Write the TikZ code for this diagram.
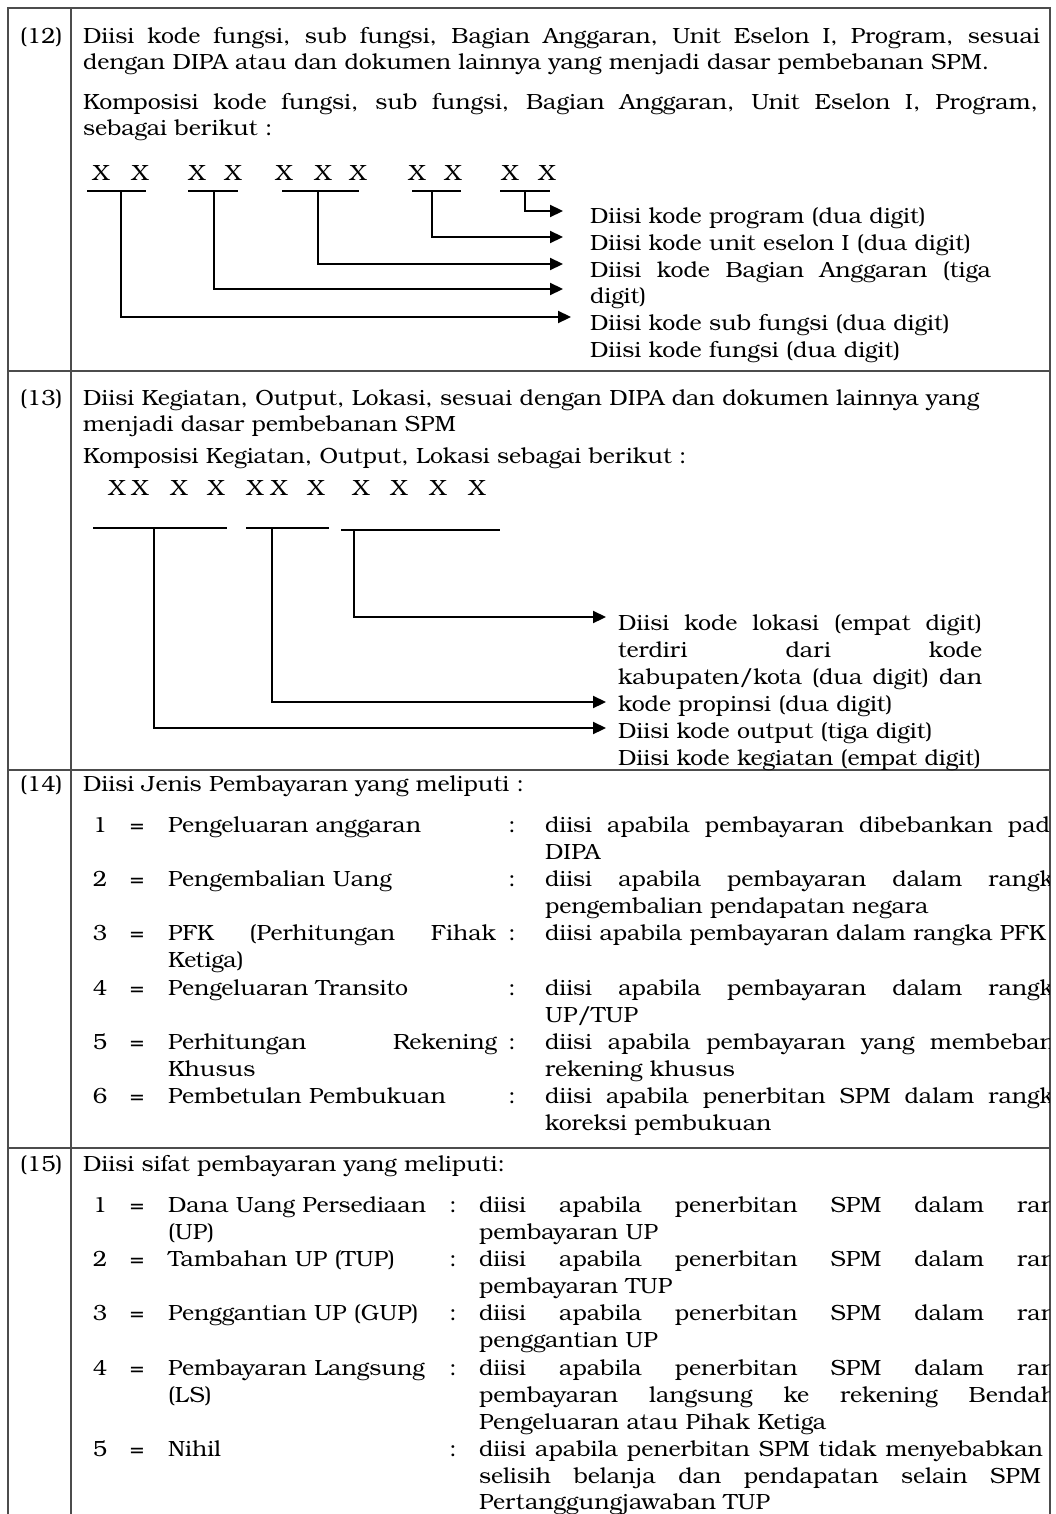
\documentclass[tikz,border=0pt]{standalone}
\usepackage{fontspec}
\setmainfont[FakeStretch=1.05]{TeX Gyre Bonum}
\usetikzlibrary{arrows.meta}
\newcommand\jl[2]{\makebox[#1pt][s]{#2}}
\begin{document}
\begin{tikzpicture}[x=1pt,y=-1pt,
  ln/.style={anchor=base west,inner sep=0pt,outer sep=0pt,font=\fontsize{22}{27}\selectfont},
  ctr/.style={ln,anchor=base},
  xx/.style={anchor=center,inner sep=0pt,outer sep=0pt,font=\fontsize{22}{27}\selectfont},
  frame/.style={draw=black!70,line width=1.2pt},
  bar/.style={line width=2.2pt},
  arr/.style={line width=2.2pt,-{Triangle[length=13pt,width=12pt]}}
]
\useasboundingbox (0,0) rectangle (1055,1514);
\fill[white] (0,0) rectangle (1055,1514);
% frame
\draw[frame] (8,1514) -- (8,8) -- (1050,8) -- (1050,1514);
\draw[frame] (71,8) -- (71,1514);
\draw[frame] (8,371) -- (1050,371);
\draw[frame] (8,770) -- (1050,770);
\draw[frame] (8,1148) -- (1050,1148);

\begin{scope}
\clip (8,8) rectangle (1049,1514);
% ---------- row 12
\node[ln] (n12) at (20,44) {(12)};
\node[ln] (a1) at (83,44) {\jl{957}{Diisi kode fungsi, sub fungsi, Bagian Anggaran, Unit Eselon I, Program, sesuai}};
\node[ln] (a2) at (83,70) {dengan DIPA atau dan dokumen lainnya yang menjadi dasar pembebanan SPM.};
\node[ln] (a3) at (83,110) {\jl{955}{Komposisi kode fungsi, sub fungsi, Bagian Anggaran, Unit Eselon I, Program,}};
\node[ln] (a4) at (83,136) {sebagai berikut :};
\foreach \i/\x in {1/101,2/140,3/197,4/233,5/284,6/323,7/358,8/417,9/453,10/510,11/547}
  \node[xx] (xa\i) at (\x,173) {X};
\node[ln] (r1) at (590,224) {Diisi kode program (dua digit)};
\node[ln] (r2) at (590,251) {Diisi kode unit eselon I (dua digit)};
\node[ln] (r3) at (590,277) {\jl{401}{Diisi kode Bagian Anggaran (tiga}};
\node[ln] (r4) at (590,303) {digit)};
\node[ln] (r5) at (590,330) {Diisi kode sub fungsi (dua digit)};
\node[ln] (r6) at (590,357) {Diisi kode fungsi (dua digit)};
% ---------- row 13
\node[ln] (n13) at (20,405) {(13)};
\node[ln] (b1) at (83,405) {Diisi Kegiatan, Output, Lokasi, sesuai dengan DIPA dan dokumen lainnya yang};
\node[ln] (b2) at (83,431) {menjadi dasar pembebanan SPM};
\node[ln] (b3) at (83,463) {Komposisi Kegiatan, Output, Lokasi sebagai berikut :};
\foreach \i/\x in {1/117,2/140,3/179,4/216,5/255,6/279,7/316,8/361,9/399,10/438,11/477}
  \node[xx] (xb\i) at (\x,488) {X};
\node[ln] (s1) at (618,630) {\jl{364}{Diisi kode lokasi (empat digit)}};
\node[ln] (s2) at (618,657) {\jl{364}{terdiri dari kode}};
\node[ln] (s3) at (618,684) {\jl{364}{kabupaten/kota (dua digit) dan}};
\node[ln] (s4) at (618,711) {kode propinsi (dua digit)};
\node[ln] (s5) at (618,738) {Diisi kode output (tiga digit)};
\node[ln] (s6) at (618,765) {Diisi kode kegiatan (empat digit)};
% ---------- row 14
\node[ln] (n14) at (20,791) {(14)};
\node[ln] (c0) at (83,791) {Diisi Jenis Pembayaran yang meliputi :};
\foreach \i/\y in {1/832,2/886,3/940,4/995,5/1049,6/1103}{
  \node[ctr] (cn\i) at (100,\y) {\i};
  \node[ctr] (ce\i) at (137,\y) {=};
  \node[ctr] (cc\i) at (512,\y) {:};
}
\node[ln] (cl1) at (168,832) {Pengeluaran anggaran};
\node[ln] (cd1) at (545,832) {\jl{505}{diisi apabila pembayaran dibebankan pad}};
\node[ln] (cd1b) at (545,859) {DIPA};
\node[ln] (cl2) at (168,886) {Pengembalian Uang};
\node[ln] (cd2) at (545,886) {\jl{509}{diisi apabila pembayaran dalam rangk}};
\node[ln] (cd2b) at (545,913) {pengembalian pendapatan negara};
\node[ln] (cl3) at (168,940) {\jl{328}{PFK (Perhitungan Fihak}};
\node[ln] (cl3b) at (168,967) {Ketiga)};
\node[ln] (cd3) at (545,940) {diisi apabila pembayaran dalam rangka PFK};
\node[ln] (cl4) at (168,995) {Pengeluaran Transito};
\node[ln] (cd4) at (545,995) {\jl{509}{diisi apabila pembayaran dalam rangk}};
\node[ln] (cd4b) at (545,1022) {UP/TUP};
\node[ln] (cl5) at (168,1049) {\jl{329}{Perhitungan Rekening}};
\node[ln] (cl5b) at (168,1076) {Khusus};
\node[ln] (cd5) at (545,1049) {\jl{510}{diisi apabila pembayaran yang membeban}};
\node[ln] (cd5b) at (545,1076) {rekening khusus};
\node[ln] (cl6) at (168,1103) {Pembetulan Pembukuan};
\node[ln] (cd6) at (545,1103) {\jl{509}{diisi apabila penerbitan SPM dalam rangk}};
\node[ln] (cd6b) at (545,1130) {koreksi pembukuan};
% ---------- row 15
\node[ln] (n15) at (20,1171) {(15)};
\node[ln] (d0) at (83,1171) {Diisi sifat pembayaran yang meliputi:};
\foreach \i/\y in {1/1212,2/1266,3/1320,4/1375,5/1456}{
  \node[ctr] (dn\i) at (100,\y) {\i};
  \node[ctr] (de\i) at (137,\y) {=};
  \node[ctr] (dc\i) at (453,\y) {:};
}
\node[ln] (dl1) at (168,1212) {Dana Uang Persediaan};
\node[ln] (dl1b) at (168,1239) {(UP)};
\node[ln] (dd1) at (479,1212) {\jl{577}{diisi apabila penerbitan SPM dalam ran}};
\node[ln] (dd1b) at (479,1239) {pembayaran UP};
\node[ln] (dl2) at (168,1266) {Tambahan UP (TUP)};
\node[ln] (dd2) at (479,1266) {\jl{577}{diisi apabila penerbitan SPM dalam ran}};
\node[ln] (dd2b) at (479,1293) {pembayaran TUP};
\node[ln] (dl3) at (168,1320) {Penggantian UP (GUP)};
\node[ln] (dd3) at (479,1320) {\jl{577}{diisi apabila penerbitan SPM dalam ran}};
\node[ln] (dd3b) at (479,1347) {penggantian UP};
\node[ln] (dl4) at (168,1375) {Pembayaran Langsung};
\node[ln] (dl4b) at (168,1402) {(LS)};
\node[ln] (dd4) at (479,1375) {\jl{577}{diisi apabila penerbitan SPM dalam ran}};
\node[ln] (dd4b) at (479,1402) {\jl{577}{pembayaran langsung ke rekening Bendah}};
\node[ln] (dd4c) at (479,1429) {Pengeluaran atau Pihak Ketiga};
\node[ln] (dl5) at (168,1456) {Nihil};
\node[ln] (dd5) at (479,1456) {\jl{564}{diisi apabila penerbitan SPM tidak menyebabkan}};
\node[ln] (dd5b) at (479,1483) {\jl{562}{selisih belanja dan pendapatan selain SPM}};
\node[ln] (dd5c) at (479,1509) {Pertanggungjawaban TUP};
\end{scope}

% ---------- diagram row 12
\foreach \n/\l/\m/\r in {1/87/121/146,2/188/214/238,3/282/318/359,4/412/432/461,5/500/525/550}{
  \coordinate (ual\n) at (\l,191);
  \coordinate (uar\n) at (\r,191);
  \coordinate (uam\n) at (\m,191);
  \draw[bar] (ual\n) -- (uar\n);
}
\coordinate (ea5) at (563,211);
\coordinate (ea4) at (563,237);
\coordinate (ea3) at (563,264);
\coordinate (ea2) at (563,289);
\coordinate (ea1) at (571,317);
\foreach \n in {1,...,5} \draw[arr] (uam\n) |- (ea\n);
% ---------- diagram row 13
\foreach \n/\l/\m/\r/\y in {1/93/154/227/528,2/246/272/329/528,3/341/354/500/530}{
  \coordinate (ubl\n) at (\l,\y);
  \coordinate (ubr\n) at (\r,\y);
  \coordinate (ubm\n) at (\m,\y);
  \draw[bar] (ubl\n) -- (ubr\n);
}
\coordinate (eb3) at (606,617);
\coordinate (eb2) at (606,702);
\coordinate (eb1) at (606,728);
\foreach \n in {1,2,3} \draw[arr] (ubm\n) |- (eb\n);
\end{tikzpicture}
\end{document}
